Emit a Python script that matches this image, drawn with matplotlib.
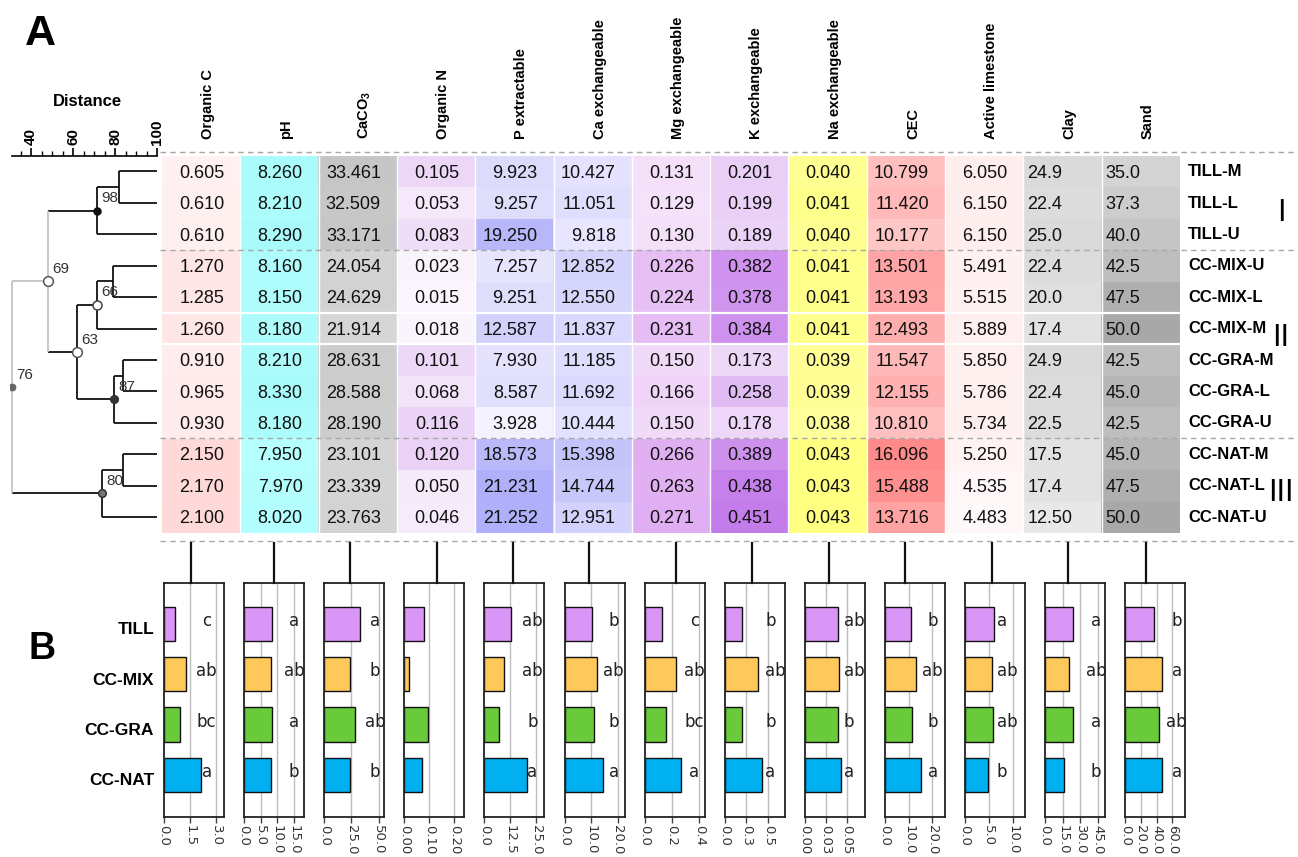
import matplotlib
matplotlib.use("Agg")
import matplotlib.pyplot as plt
import numpy as np
from matplotlib.colors import to_rgb
from matplotlib.transforms import blended_transform_factory

plt.rcParams["font.family"] = ["Liberation Sans", "DejaVu Sans"]
plt.rcParams["mathtext.fontset"] = "custom"
plt.rcParams["mathtext.rm"] = "Liberation Sans"
plt.rcParams["mathtext.bf"] = "Liberation Sans:bold"

# ---------------------------------------------------------------- data
samples = ["TILL-M", "TILL-L", "TILL-U", "CC-MIX-U", "CC-MIX-L", "CC-MIX-M",
           "CC-GRA-M", "CC-GRA-L", "CC-GRA-U", "CC-NAT-M", "CC-NAT-L", "CC-NAT-U"]
variables = ["Organic C", "pH", r"CaCO$_\mathbf{3}$", "Organic N", "P extractable",
             "Ca exchangeable", "Mg exchangeable", "K exchangeable", "Na exchangeable",
             "CEC", "Active limestone", "Clay", "Sand"]

organic_c = [0.605, 0.610, 0.610, 1.270, 1.285, 1.260, 0.910, 0.965, 0.930, 2.150, 2.170, 2.100]
ph = [8.260, 8.210, 8.290, 8.160, 8.150, 8.180, 8.210, 8.330, 8.180, 7.950, 7.970, 8.020]
caco3 = [33.461, 32.509, 33.171, 24.054, 24.629, 21.914, 28.631, 28.588, 28.190, 23.101, 23.339, 23.763]
organic_n = [0.105, 0.053, 0.083, 0.023, 0.015, 0.018, 0.101, 0.068, 0.116, 0.120, 0.050, 0.046]
p_extractable = [9.923, 9.257, 19.250, 7.257, 9.251, 12.587, 7.930, 8.587, 3.928, 18.573, 21.231, 21.252]
ca_exch = [10.427, 11.051, 9.818, 12.852, 12.550, 11.837, 11.185, 11.692, 10.444, 15.398, 14.744, 12.951]
mg_exch = [0.131, 0.129, 0.130, 0.226, 0.224, 0.231, 0.150, 0.166, 0.150, 0.266, 0.263, 0.271]
k_exch = [0.201, 0.199, 0.189, 0.382, 0.378, 0.384, 0.173, 0.258, 0.178, 0.389, 0.438, 0.451]
na_exch = [0.040, 0.041, 0.040, 0.041, 0.041, 0.041, 0.039, 0.039, 0.038, 0.043, 0.043, 0.043]
cec = [10.799, 11.420, 10.177, 13.501, 13.193, 12.493, 11.547, 12.155, 10.810, 16.096, 15.488, 13.716]
active_limestone = [6.050, 6.150, 6.150, 5.491, 5.515, 5.889, 5.850, 5.786, 5.734, 5.250, 4.535, 4.483]
clay_text = ["24.9", "22.4", "25.0", "22.4", "20.0", "17.4", "24.9", "22.4", "22.5", "17.5", "17.4", "12.50"]
sand = [35.0, 37.3, 40.0, 42.5, 47.5, 50.0, 42.5, 45.0, 42.5, 45.0, 47.5, 50.0]
clay = [float(s) for s in clay_text]

table = [organic_c, ph, caco3, organic_n, p_extractable, ca_exch, mg_exch, k_exch,
         na_exch, cec, active_limestone, clay, sand]

# hierarchical clustering (leaf order = samples); ids >= 12 are merges
merges = [
    (0, 1, 82.0), (12, 2, 71.6), (3, 4, 79.2), (14, 5, 71.6), (6, 7, 83.7),
    (16, 8, 79.7), (15, 17, 62.0), (13, 18, 48.3), (9, 10, 83.7), (20, 11, 73.7),
    (19, 21, 31.1),
]
support = {13: 98, 15: 66, 17: 87, 18: 63, 19: 69, 21: 80, 22: 76}
cluster_names = ["I", "II", "III"]

# group means per treatment
groups = ["TILL", "CC-MIX", "CC-GRA", "CC-NAT"]
bar_values = [
    [0.61, 1.27, 0.94, 2.14],
    [8.25, 8.16, 8.24, 7.98],
    [33.05, 23.53, 28.47, 23.40],
    [0.080, 0.019, 0.095, 0.072],
    [12.81, 9.70, 6.82, 20.35],
    [10.43, 12.41, 11.11, 14.36],
    [0.130, 0.227, 0.155, 0.267],
    [0.196, 0.381, 0.203, 0.426],
    [0.040, 0.041, 0.039, 0.043],
    [10.80, 13.06, 11.50, 15.10],
    [6.12, 5.63, 5.79, 4.76],
    [24.1, 19.9, 23.3, 15.8],
    [37.4, 46.7, 43.3, 47.5],
]
letters = [
    ["c", "ab", "bc", "a"], ["a", "ab", "a", "b"], ["a", "b", "ab", "b"], None,
    ["ab", "ab", "b", "a"], ["b", "ab", "b", "a"], ["c", "ab", "bc", "a"],
    ["b", "ab", "b", "a"], ["ab", "ab", "b", "a"], ["b", "ab", "b", "a"],
    ["a", "ab", "ab", "b"], ["a", "ab", "a", "b"], ["b", "a", "ab", "a"],
]
bar_ticks = [
    [0, 1.5, 3.0], [0, 5, 10, 15], [0, 25, 50], [0, 0.1, 0.2], [0, 12.5, 25],
    [0, 10, 20], [0, 0.2, 0.4], [0, 0.25, 0.5], [0, 0.025, 0.05], [0, 10, 20],
    [0, 5, 10], [0, 15, 30, 45], [0, 20, 40, 60],
]
bar_tick_labels = [
    ["0.0", "1.5", "3.0"], ["0.0", "5.0", "10.0", "15.0"], ["0.0", "25.0", "50.0"],
    ["0.00", "0.10", "0.20"], ["0.0", "12.5", "25.0"], ["0.0", "10.0", "20.0"],
    ["0.0", "0.2", "0.4"], ["0.0", "0.3", "0.5"], ["0.00", "0.03", "0.05"],
    ["0.0", "10.0", "20.0"], ["0.0", "5.0", "10.0"], ["0.0", "15.0", "30.0", "45.0"],
    ["0.0", "20.0", "40.0", "60.0"],
]
bar_xmax = [3.45, 18, 55, 0.24, 29, 22.6, 0.44, 0.69, 0.0714, 25.3, 12.6, 51, 76.6]

# ---------------------------------------------------------------- styling
cell_colors = [
    ("#FFF1F1", "#FFD8D8"), ("#B6FFFF", "#A8FBFB"), ("#D6D6D6", "#C6C6C6"),
    ("#FBF6FD", "#EAD2F6"), ("#F4F2FE", "#B0B0FA"), ("#E8E6FF", "#C4C4FA"),
    ("#F5E2FA", "#E0AEF2"), ("#EED8F8", "#C57CEB"), ("#FFFF9C", "#FFFF82"),
    ("#FFC6C6", "#FF8A8A"), ("#FFF8F8", "#FFEEEE"), ("#E8E8E8", "#DADADA"),
    ("#D4D4D4", "#A8A8A8"),
]
decimals = [3] * 11 + [None, 1]
group_colors = ["#DA96F6", "#FFC85A", "#6ACB3A", "#00B0F0"]
letter_pos = [(0.71, "center"), (0.83, "center"), (0.845, "center"), None,
              (0.80, "center"), (0.82, "center"), (0.83, "center"), (0.68, "left"),
              (0.65, "left"), (0.795, "center"), (0.53, "left"), (0.85, "center"),
              (0.86, "center")]
cluster_label_y = [1.73, 5.71, 10.64]
connector_x = [191, 274, 350, 437, 513, 589, 676, 752, 829, 905, 992, 1068, 1146]
narrow = ["Liberation Sans Narrow", "Liberation Sans", "DejaVu Sans"]

W, H = 1298, 857
fig = plt.figure(figsize=(W / 100, H / 100), dpi=100)


def px_axes(left, top, right, bottom, **kw):
    return fig.add_axes([left / W, 1 - bottom / H, (right - left) / W, (bottom - top) / H], **kw)


n_rows, n_cols = len(samples), len(variables)
TBL_L, TBL_R, TBL_T, TBL_B = 162, 1180, 155.8, 532.6
col_w = (TBL_R - TBL_L) / n_cols
row_h = (TBL_B - TBL_T) / n_rows

# ---------------------------------------------------------------- heatmap table
ax_h = px_axes(TBL_L, TBL_T, TBL_R, TBL_B)
rgb = np.zeros((n_rows, n_cols, 3))
for j, col in enumerate(table):
    v = np.asarray(col, dtype=float)
    t = (v - v.min()) / (v.max() - v.min())
    lo, hi = np.array(to_rgb(cell_colors[j][0])), np.array(to_rgb(cell_colors[j][1]))
    rgb[:, j, :] = lo + t[:, None] * (hi - lo)
ax_h.imshow(rgb, extent=(0, n_cols, n_rows, 0), aspect="auto", interpolation="nearest")
ax_h.set_xlim(0, n_cols)
ax_h.set_ylim(n_rows, 0)
ax_h.axis("off")
ax_h.vlines(np.arange(1, n_cols), 0, n_rows, color="white", lw=1)
ax_h.hlines([5, 6], 0, n_cols, color="white", lw=1.6)

for j, col in enumerate(table):
    for i, v in enumerate(col):
        if j == 11:
            txt = clay_text[i]
        else:
            txt = f"{v:.{decimals[j]}f}"
        if j >= 11:
            x, ha = j + 4 / col_w, "left"
        else:
            x, ha = j + 1 - 16 / col_w, "right"
        ax_h.text(x, i + 0.5 + 0.2, txt, ha=ha, va="baseline", fontsize=13, color="#111111")

for j, name in enumerate(variables):
    ax_h.text(j + 0.5 + 7 / col_w, -(TBL_T - 139) / row_h, name, rotation=90,
              ha="center", va="bottom", fontsize=10.5, fontweight="bold", clip_on=False)

for i, name in enumerate(samples):
    ax_h.text(n_cols + 8 / col_w, i + 0.5 + 0.15, name, ha="left", va="baseline",
              fontsize=12, fontweight="bold", family=narrow, clip_on=False)

for label, yc in zip(cluster_names, cluster_label_y):
    ax_h.text(n_cols + 101 / col_w, yc + 0.1, label, ha="center", va="center",
              fontsize=22, family=narrow, clip_on=False)

# ---------------------------------------------------------------- dendrogram
ax_d = px_axes(10, TBL_T, 157, TBL_B)
ax_d.set_xlim(30, 100)
ax_d.set_ylim(n_rows, 0)
height = {i: 100.0 for i in range(n_rows)}
ypos = {i: i + 0.5 for i in range(n_rows)}
gray_nodes = {19, 22}


def line_col(n):
    return "#C4C4C4" if n in gray_nodes else "#111111"


for k, (a, b, h) in enumerate(merges):
    n = n_rows + k
    height[n] = h
    ypos[n] = (ypos[a] + ypos[b]) / 2
    for c in (a, b):
        ax_d.plot([height[c], h], [ypos[c], ypos[c]], color=line_col(c), lw=1.3,
                  solid_capstyle="butt", zorder=2)
    ax_d.plot([h, h], [ypos[a], ypos[b]], color=line_col(n), lw=1.3,
              solid_capstyle="butt", zorder=2)

node_marker = {13: ("#111111", "#111111", 5), 15: ("white", "#444444", 6.5),
               17: ("#333333", "#333333", 5.5), 18: ("white", "#555555", 7),
               19: ("white", "#555555", 7), 21: ("#777777", "#333333", 5.5),
               22: ("#666666", "#666666", 4.5)}
for n, s in support.items():
    fc, ec, ms = node_marker[n]
    ax_d.plot(height[n], ypos[n], "o", mfc=fc, mec=ec, ms=ms, mew=1.1, zorder=3)
    ax_d.annotate(str(s), (height[n], ypos[n]), xytext=(3, 9), textcoords="offset points",
                  ha="left", va="center", fontsize=11, color="#333333")

for sp in ("left", "right", "bottom"):
    ax_d.spines[sp].set_visible(False)
ax_d.spines["top"].set_bounds(31, 100)
ax_d.spines["top"].set_linewidth(1.2)
ax_d.patch.set_visible(False)
ax_d.set_yticks([])
ax_d.xaxis.tick_top()
ax_d.set_xticks([40, 60, 80, 100])
ax_d.set_xticks(np.arange(35, 100, 5), minor=True)
ax_d.tick_params(axis="x", which="major", length=6, width=1.2, pad=2, labelsize=11,
                 labelrotation=90)
ax_d.tick_params(axis="x", which="minor", length=3.5, width=1.0)
for lbl in ax_d.get_xticklabels():
    lbl.set_fontweight("bold")
ax_d.text(0.53, 1.0 + (TBL_T - 101) / (TBL_B - TBL_T), "Distance", transform=ax_d.transAxes,
          ha="center", va="center", fontsize=12, fontweight="bold")

# ---------------------------------------------------------------- overlay lines
ax_c = fig.add_axes([0, 0, 1, 1], zorder=5)
ax_c.set_xlim(0, W)
ax_c.set_ylim(H, 0)
ax_c.axis("off")
ax_c.patch.set_visible(False)
for yy in (152, TBL_T + 3 * row_h, TBL_T + 9 * row_h, 541):
    ax_c.plot([160, W], [yy, yy], color="#A8A8A8", lw=1.0, dashes=(4, 3))
for xx in connector_x:
    ax_c.plot([xx, xx], [543, 583], color="#111111", lw=1.6)

fig.text(25 / W, 1 - 34 / H, "A", fontsize=31, fontweight="bold", va="center", ha="left")
fig.text(29 / W, 1 - 649 / H, "B", fontsize=27, fontweight="bold", va="center", ha="left")

# ---------------------------------------------------------------- bar panels
BOX_L0, BOX_STEP, BOX_W, BOX_T, BOX_B = 164, 80.1, 60, 583, 817
bar_pos = np.arange(len(groups))
for j in range(n_cols):
    left = BOX_L0 + j * BOX_STEP
    ax = px_axes(left, BOX_T, left + BOX_W, BOX_B)
    ax.set_xlim(0, bar_xmax[j])
    ax.set_ylim(3.837, -0.815)
    for t in bar_ticks[j][1:]:
        ax.axvline(t, color="#BDBDBD", lw=1.0, zorder=0)
    ax.barh(bar_pos, bar_values[j], height=0.68, color=group_colors,
            edgecolor="#111111", linewidth=1.0, zorder=2)
    ax.set_xticks(bar_ticks[j])
    ax.set_xticklabels(bar_tick_labels[j], rotation=270, fontsize=9.5,
                       family="DejaVu Sans", color="#333333")
    ax.tick_params(axis="x", length=4, width=1, pad=2, color="#444444")
    ax.set_yticks([])
    for sp in ax.spines.values():
        sp.set_linewidth(1.3)
        sp.set_color("#222222")
    if letters[j] is not None:
        fx, ha = letter_pos[j]
        tr = blended_transform_factory(ax.transAxes, ax.transData)
        for i, lt in enumerate(letters[j]):
            ax.text(fx, i - 0.06, lt, transform=tr, ha=ha, va="center", fontsize=12,
                    family="DejaVu Sans", color="#222222", zorder=3)
    if j == 0:
        tr = blended_transform_factory(ax.transAxes, ax.transData)
        for i, g in enumerate(groups):
            ax.text(-10 / BOX_W, i + 6 / 50.3, g, transform=tr, ha="right", va="center",
                    fontsize=12.5, fontweight="bold", family=narrow)

fig.savefig("out.png", dpi=100)
